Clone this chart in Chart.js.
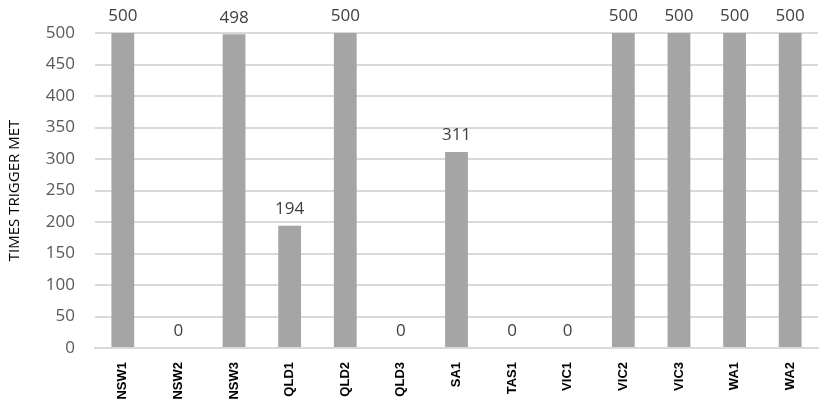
<!DOCTYPE html>
<html lang="en">
<head>
    <meta charset="UTF-8">
    <title>Times Trigger Met</title>
    <script src="https://cdn.jsdelivr.net/npm/chart.js"></script>
    <style>
        html, body { margin: 0; padding: 0; background: #fff; }
        .chart-box { width: 829px; height: 408px; }
    </style>
</head>
<body>
    <div class="chart-box">
        <canvas id="triggerChart"></canvas>
    </div>
    <script>
        const regions = ['NSW1', 'NSW2', 'NSW3', 'QLD1', 'QLD2', 'QLD3', 'SA1', 'TAS1', 'VIC1', 'VIC2', 'VIC3', 'WA1', 'WA2'];
        const timesMet = [500, 0, 498, 194, 500, 0, 311, 0, 0, 500, 500, 500, 500];
        const yTicks = [0, 50, 100, 150, 200, 250, 300, 350, 400, 450, 500];

        // value labels above each bar
        const barLabels = {
            id: 'barLabels',
            afterDatasetsDraw(chart) {
                const ctx = chart.ctx;
                const meta = chart.getDatasetMeta(0);
                ctx.save();
                ctx.font = '17px "Open Sans", sans-serif';
                ctx.fillStyle = '#404040';
                ctx.textAlign = 'center';
                ctx.textBaseline = 'bottom';
                meta.data.forEach((bar, i) => {
                    const gap = timesMet[i] === 0 ? 8 : 8;
                    ctx.fillText(String(timesMet[i]), bar.x, bar.y - gap);
                });
                ctx.restore();
            }
        };

        new Chart(document.getElementById('triggerChart'), {
            type: 'bar',
            data: {
                labels: regions,
                datasets: [{
                    data: timesMet,
                    backgroundColor: '#a5a5a5',
                    categoryPercentage: 1,
                    barPercentage: 0.41
                }]
            },
            options: {
                responsive: true,
                maintainAspectRatio: false,
                animation: false,
                layout: { padding: { top: 33, right: 11, left: 0, bottom: 0 } },
                plugins: {
                    legend: { display: false },
                    tooltip: { enabled: false }
                },
                scales: {
                    x: {
                        grid: { display: false, drawTicks: false },
                        border: { color: '#d9d9d9', width: 2 },
                        afterFit(axis) { axis.height = 60; },
                        ticks: {
                            color: '#000',
                            font: { family: 'Liberation Sans', size: 13, weight: 'bold' },
                            maxRotation: 90,
                            minRotation: 90,
                            padding: 14
                        }
                    },
                    y: {
                        min: 0,
                        max: 500,
                        afterBuildTicks(axis) {
                            axis.ticks = yTicks.map(v => ({ value: v }));
                        },
                        afterFit(axis) { axis.width = 95; },
                        grid: { color: '#d9d9d9', lineWidth: 2, drawTicks: false },
                        border: { display: false },
                        ticks: {
                            color: '#595959',
                            font: { family: 'Open Sans', size: 17 },
                            padding: 20
                        },
                        title: {
                            display: true,
                            text: 'TIMES TRIGGER MET',
                            color: '#000',
                            font: { family: 'Open Sans', size: 15 },
                            padding: { top: 6, bottom: 0 }
                        }
                    }
                }
            },
            plugins: [barLabels]
        });
    </script>
</body>
</html>
